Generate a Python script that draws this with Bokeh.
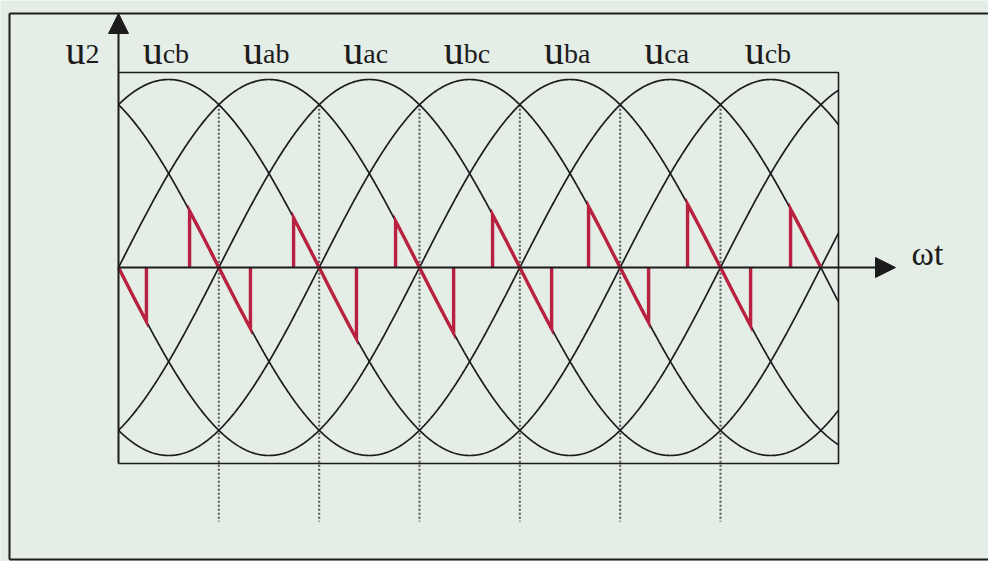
import numpy as np
from bokeh.plotting import figure
from bokeh.models import Range1d, Arrow, NormalHead
from bokeh.core.properties import value
from bokeh.embed import file_html
from bokeh.resources import INLINE

# ---------------- data ----------------
phase_names = ["ucb", "uab", "uac", "ubc", "uba", "uca"]
phase_peak_deg = [30, 90, 150, 210, 270, 330]          # angle of each line voltage's peak
amplitude = 1.0
label_subs = ["cb", "ab", "ac", "bc", "ba", "ca", "cb"]
label_peak_deg = [30, 90, 150, 210, 270, 330, 390]
commutation_deg = [60, 120, 180, 240, 300, 360]          # dotted lines
red_on_deg = [0, 42.5, 104.7, 165.7, 223.7, 281.1, 340.3, 401.9]
red_off_deg = [16.7, 78.9, 142.3, 200.4, 259.0, 317.0, 378.0, 420.0]
red_phase = ["uba", "uca", "ucb", "uab", "uac", "ubc", "uba", "uca"]
y_label = ("u", "2")
x_label = "ωt"

# ---------------- layout helpers ----------------
W, H = 988, 561
OFF = 0
X0, Y0 = 118.0, 267.0          # page px of origin
SX = 602.0 / 360.0             # px per degree
SY = 188.0                     # px per unit amplitude
TXT_SHIFT = 13.0               # svg baseline compensation (px)

def tx(px):
    return (px - X0) / SX

def ty(py):
    return (Y0 - py) / SY

BG = "#e5ede7"
INK = "#1c1c1c"
RED = "#b8213f"
FONT = value("Liberation Serif")

p = figure(width=W, height=H, output_backend="svg", toolbar_location=None,
           x_range=Range1d(tx(OFF), tx(OFF + W)), y_range=Range1d(ty(OFF + H), ty(OFF)),
           min_border=0, x_axis_type=None, y_axis_type=None)
p.background_fill_color = BG
p.border_fill_color = BG
p.outline_line_color = None
p.xgrid.visible = False
p.ygrid.visible = False

# outer frame (left, top, bottom)
p.line([tx(9), tx(9)], [ty(13), ty(559)], line_color=INK, line_width=2)
p.line([tx(9), tx(OFF + W + 5)], [ty(13), ty(13)], line_color=INK, line_width=2)
p.line([tx(9), tx(OFF + W + 5)], [ty(559), ty(559)], line_color=INK, line_width=2)

# inner box
th_end = tx(838)
box_top, box_bot = ty(72), ty(463)
p.line([0, th_end, th_end, 0], [box_top, box_top, box_bot, box_bot],
       line_color=INK, line_width=1.6)

# dotted commutation lines
cross_y = amplitude * np.cos(np.radians(30))
for c in commutation_deg:
    p.line([c, c], [cross_y, ty(521)], line_color="#555555", line_width=2,
           line_dash="2 2")

# sinusoids
th = np.linspace(0, th_end, 900)
for name, pk in zip(phase_names, phase_peak_deg):
    p.line(th, amplitude * np.cos(np.radians(th - pk)), line_color=INK, line_width=1.7)

# axes with arrows
p.add_layout(Arrow(end=NormalHead(size=20, fill_color=INK, line_color=INK),
                   x_start=0, y_start=box_bot, x_end=0, y_end=ty(13),
                   line_color=INK, line_width=2))
p.add_layout(Arrow(end=NormalHead(size=20, fill_color=INK, line_color=INK),
                   x_start=0, y_start=0, x_end=tx(895), y_end=0,
                   line_color=INK, line_width=2))

# red waveform
peak_of = dict(zip(phase_names, phase_peak_deg))
for on, off, ph in zip(red_on_deg, red_off_deg, red_phase):
    seg = np.linspace(on, off, 60)
    vals = amplitude * np.cos(np.radians(seg - peak_of[ph]))
    xs = [on] + list(seg) + [off]
    ys = [0.0] + list(vals) + [0.0]
    p.line(xs, ys, line_color=RED, line_width=3.4, line_join="miter")

# labels
u_size, sub_size = "40px", "28px"
for sub, pk in zip(label_subs, label_peak_deg):
    ax = pk - 6 / SX
    p.text([ax], [ty(63 - TXT_SHIFT)], text=["u"], text_align="right", text_baseline="alphabetic",
           text_font=FONT, text_font_size=u_size, text_color=INK)
    p.text([ax], [ty(66 - TXT_SHIFT)], text=[sub], text_align="left", text_baseline="alphabetic",
           text_font=FONT, text_font_size=sub_size, text_color=INK)

p.text([tx(85)], [ty(63 - TXT_SHIFT)], text=[y_label[0]], text_align="right", text_baseline="alphabetic",
       text_font=FONT, text_font_size=u_size, text_color=INK)
p.text([tx(85)], [ty(66 - TXT_SHIFT)], text=[y_label[1]], text_align="left", text_baseline="alphabetic",
       text_font=FONT, text_font_size=sub_size, text_color=INK)

p.text([tx(911)], [ty(266 - TXT_SHIFT)], text=[x_label], text_align="left", text_baseline="alphabetic",
       text_font=FONT, text_font_size="34px", text_color=INK)

open("out.html", "w").write(file_html(p, INLINE))
